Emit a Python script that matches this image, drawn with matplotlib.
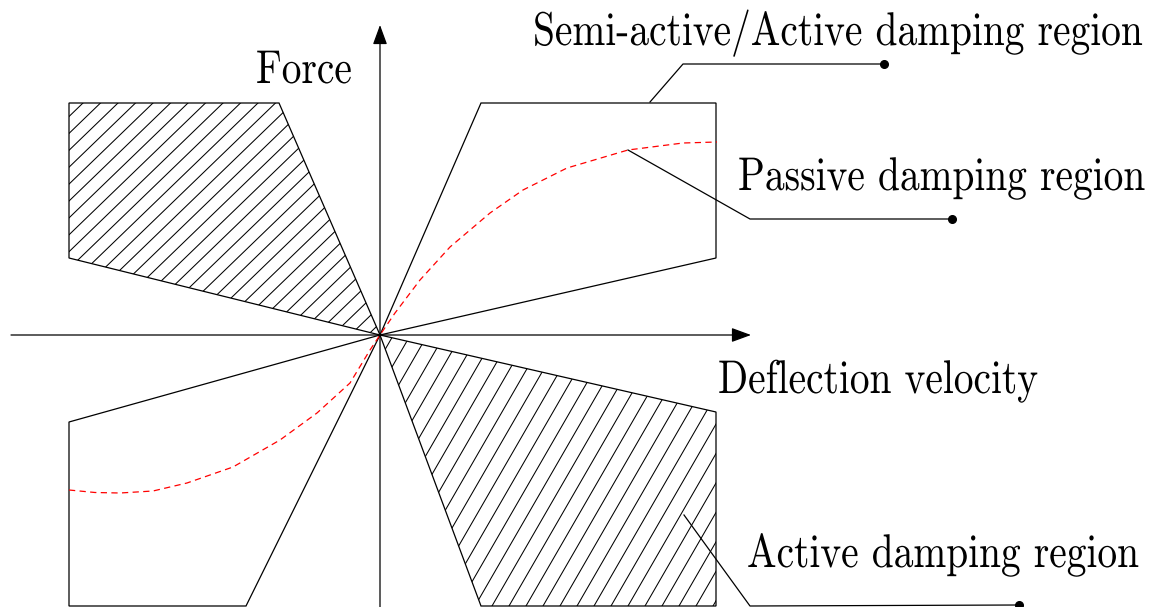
import matplotlib
matplotlib.use("Agg")
import numpy as np
import matplotlib.pyplot as plt
from matplotlib.patches import Polygon
from matplotlib.collections import LineCollection
from matplotlib.patheffects import AbstractPathEffect
from matplotlib.transforms import Affine2D

plt.rcParams['font.family'] = ['cmr10', 'DejaVu Serif']

# ---- data (diagram units, origin at the axes crossing) ----
region_top_left = [(-311, 232), (-101, 232), (0, 0), (-311, 77)]          # hatched
region_top_right = [(0, 0), (101, 232), (336, 232), (336, 77)]            # semi-active/active
region_bottom_right = [(0, 0), (336, -77), (336, -271), (101, -271)]      # hatched
region_bottom_left = [(0, 0), (-311, -87), (-311, -271), (-134, -271)]

passive_x = [-311, -285, -260, -227, -193, -147, -100, -63, -30, -10, 0,
             15, 40, 70, 110, 143, 187, 248, 303, 337]
passive_y = [-155, -157.5, -158, -156, -148, -132, -105, -78, -48, -15, 0,
             22, 55, 88, 122, 145, 167, 185, 192, 193]

lead_semi_x = [270, 303, 504]
lead_semi_y = [233, 271, 271]
lead_passive_x = [248, 370, 572]
lead_passive_y = [185, 116, 116]
lead_active_x = [304, 370, 639]
lead_active_y = [-180, -271, -270]

labels = {
    "Force": (-124, 252),
    "Semi-active/Active damping region": (153, 290),
    "Passive damping region": (358, 145),
    "Deflection velocity": (338, -58),
    "Active damping region": (367, -232),
}

x_axis = ((-369, 0), (371, 0))
y_axis = ((0, -272), (0, 310))

# hatch style: (angle in degrees, horizontal spacing, reference x on a line, reference y)
hatch_top_left = (44, 17.5, -297, 232)
hatch_bottom_right = (60, 17.0, 112, -271)


class VerticalStretch(AbstractPathEffect):
    """Draw glyphs taller (about the baseline) to mimic the narrow face."""
    def __init__(self, sy):
        super().__init__()
        self.sy = sy

    def draw_path(self, renderer, gc, tpath, affine, rgbFace=None):
        renderer.draw_path(gc, tpath, Affine2D().scale(1.0, self.sy) + affine, rgbFace)


def add_hatch(ax, patch, style):
    ang, dx, x0, y0 = style
    t = np.radians(ang)
    ux, uy = np.cos(t), np.sin(t)
    segs = []
    for k in range(-60, 61):
        px = x0 + k * dx
        segs.append([(px - 900 * ux, y0 - 900 * uy), (px + 900 * ux, y0 + 900 * uy)])
    lc = LineCollection(segs, colors='black', linewidths=0.75, zorder=2)
    ax.add_collection(lc)
    lc.set_clip_path(patch)


# ---- drawing ----
fig = plt.figure(figsize=(11.53, 6.07), dpi=100)
ax = fig.add_axes([0, 0, 1, 1])
ax.set_xlim(-380, 773)
ax.set_ylim(-272, 335)
ax.axis('off')

for verts, hstyle in [(region_top_left, hatch_top_left), (region_top_right, None),
                      (region_bottom_right, hatch_bottom_right), (region_bottom_left, None)]:
    p = Polygon(verts, closed=True, fill=False, edgecolor='black', lw=0.9, zorder=2.5)
    ax.add_patch(p)
    if hstyle is not None:
        add_hatch(ax, p, hstyle)

ax.plot(passive_x, passive_y, color='red', lw=0.9, dashes=(5, 3.5), zorder=3)

for lx, ly in [(lead_semi_x, lead_semi_y), (lead_passive_x, lead_passive_y),
               (lead_active_x, lead_active_y)]:
    ax.plot(lx, ly, color='black', lw=0.9, zorder=4, clip_on=False)
    ax.plot(lx[-1], ly[-1], 'o', color='black', ms=5.5, zorder=5, clip_on=False)

for start, tip in [x_axis, y_axis]:
    ax.annotate('', xy=tip, xytext=start,
                arrowprops=dict(arrowstyle='-|>,head_length=0.6,head_width=0.22',
                                mutation_scale=20, lw=0.9, color='black',
                                shrinkA=0, shrinkB=0), zorder=6)

for txt, (tx, ty) in labels.items():
    ax.text(tx, ty, txt, fontsize=28.4, ha='left', va='baseline', color='black',
            path_effects=[VerticalStretch(1.2)])

fig.savefig('out.png', dpi=100)
